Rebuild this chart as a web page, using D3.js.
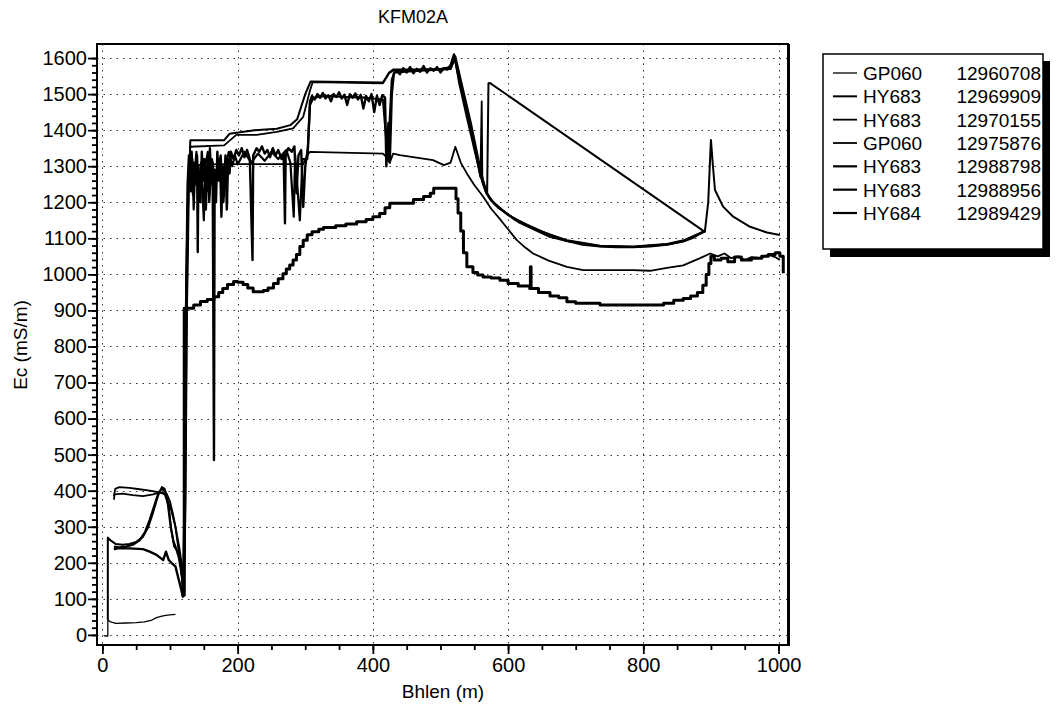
<!DOCTYPE html>
<html>
  <head>
    <meta charset="utf-8">
    <title>KFM02A</title>
    <script src="https://d3js.org/d3.v7.min.js"></script>
    <style>
    html, body {margin: 0; padding: 0; background: #fff;}
    svg {display: block;}
    text {font-family: "Liberation Sans", Arial, sans-serif; fill: #000;}
    .grid line {stroke: #333; stroke-width: 1; stroke-dasharray: 1.5,5;}
    .series {fill: none; stroke: #000; stroke-linejoin: round;}
    </style>
  </head>
  <body>
    <script>

    // series: [borehole length (m), Ec (mS/m)]
    var gp060_12960708 = [[3,-3],[8,-3],[8,42],[12,36],[20,32],[35,33],[50,34],[62,36],[72,40],[80,48],[88,52],[96,55],[108,57]];

    var hy683_12969909 = [[8,42],[8,270],[12,262],[20,252],[30,250],[40,252],[50,258],[60,272],[68,300],[75,340],[82,385],[88,410],[92,405],[96,375],[102,345],[108,300],[114,220],[118,160],[121,120],[123,400],[125,900],[128,1250],[130,1372],[180,1372],[188,1390],[225,1400],[258,1404],[278,1414],[288,1430],[300,1500],[308,1535],[415,1532],[424,1560],[430,1568],[460,1568],[500,1570],[515,1575],[522,1605],[530,1540],[545,1420],[556,1320],[563,1262],[569,1225],[571,1530],[573,1531],[891,1118],[896,1200],[900,1373],[903,1300],[906,1234],[918,1188],[933,1160],[958,1132],[983,1116],[1002,1109]];

    var hy683_12970155 = [[17,385],[19,405],[25,410],[40,408],[55,404],[70,400],[85,395],[95,392],[100,370],[105,330],[110,280],[114,240],[117,200],[120,150],[122,400],[124,900],[127,1250],[130,1354],[180,1358],[198,1387],[228,1387],[258,1395],[282,1405],[297,1437],[307,1510],[311,1533],[415,1530],[424,1558],[430,1565],[515,1570],[521,1598],[530,1530],[545,1400],[556,1300],[559,1270],[561,1480],[562,1255],[565,1240],[572,1212],[585,1185],[598,1169],[615,1145],[637,1125],[660,1105],[687,1092],[710,1082],[736,1077],[760,1075],[785,1075],[810,1077],[835,1082],[859,1091],[875,1102],[889,1118]];

    var gp060_12975876 = [[17,375],[18,390],[30,392],[45,388],[60,385],[75,390],[85,395],[92,390],[98,360],[102,290],[106,245],[110,235],[114,220],[118,150],[120,120],[122,500],[124,1000],[127,1280],[130,1300],[150,1305],[193,1306],[297,1306],[303,1330],[307,1340],[415,1335],[420,1325],[425,1310],[430,1335],[440,1331],[489,1317],[505,1303],[515,1310],[522,1354],[530,1310],[539,1280],[550,1248],[563,1216],[575,1182],[589,1151],[600,1125],[613,1095],[625,1075],[637,1058],[660,1038],[687,1021],[711,1012],[736,1012],[785,1012],[810,1010],[835,1018],[859,1025],[884,1045],[899,1058],[910,1050],[920,1058],[930,1045],[940,1050],[950,1040],[960,1048],[975,1045],[985,1055],[995,1048],[1002,1040]];

    var hy683_12988798 = [[17,237],[22,240],[40,240],[60,238],[70,231],[80,222],[90,208],[94,231],[98,208],[102,200],[108,190],[112,160],[116,130],[119,106],[121,300],[123,800],[125,1100],[126,1250],[128,1330],[130,1280],[132,1340],[134,1220],[136,1310],[138,1250],[140,1330],[141,1062],[142,1300],[145,1200],[147,1340],[149,1260],[151,1320],[153,1180],[155,1300],[157,1230],[159,1350],[161,1250],[163,1310],[165,485],[166,1290],[168,1200],[170,1340],[172,1260],[174,1320],[176,1160],[178,1300],[180,1240],[182,1330],[184,1180],[186,1320],[188,1280],[190,1340],[194,1320],[198,1345],[202,1330],[206,1350],[210,1325],[214,1345],[218,1320],[222,1040],[223,1330],[228,1350],[232,1340],[236,1355],[240,1335],[244,1345],[248,1325],[252,1350],[256,1330],[260,1345],[265,1320],[268,1335],[270,1142],[271,1330],[275,1350],[280,1340],[284,1355],[287,1225],[290,1330],[294,1345],[297,1187],[300,1300],[304,1350],[307,1480],[310,1495],[314,1485],[318,1500],[322,1490],[326,1503],[330,1488],[334,1497],[338,1480],[342,1500],[346,1492],[350,1505],[354,1488],[358,1498],[362,1470],[366,1500],[370,1490],[374,1502],[378,1485],[382,1498],[386,1460],[390,1495],[394,1480],[398,1500],[402,1450],[406,1495],[410,1470],[414,1497],[418,1490],[420,1300],[423,1420],[425,1310],[428,1500],[431,1557],[435,1565],[440,1555],[445,1572],[450,1560],[455,1575],[460,1558],[465,1570],[470,1562],[475,1578],[480,1560],[485,1572],[490,1565],[495,1575],[500,1560],[505,1572],[510,1568],[515,1580],[520,1610],[523,1585],[528,1530],[540,1430],[550,1350],[560,1270],[567,1230],[575,1205],[590,1180],[610,1152],[637,1130],[660,1110],[687,1094],[736,1079],[785,1077],[835,1084],[860,1094],[889,1118]];

    var hy683_12988956 = [[17,245],[25,243],[35,245],[45,250],[55,262],[63,285],[70,320],[77,360],[83,395],[88,405],[93,398],[97,360],[101,300],[105,260],[109,240],[113,215],[117,170],[120,130],[122,300],[124,800],[126,1150],[128,1300],[131,1230],[133,1320],[135,1180],[137,1290],[139,1340],[143,1240],[146,1310],[150,1150],[152,1300],[156,1340],[158,1200],[162,1320],[167,1250],[171,1300],[175,1330],[179,1200],[183,1310],[187,1340],[192,1300],[196,1330],[200,1305],[210,1340],[220,1310],[230,1335],[240,1315],[250,1340],[260,1320],[272,1345],[278,1310],[283,1160],[285,1330],[292,1150],[296,1320],[303,1320],[307,1470],[312,1490],[330,1495],[360,1492],[390,1490],[415,1485],[422,1320],[428,1540],[432,1560],[470,1565],[515,1570],[521,1600],[530,1520],[545,1400],[558,1290],[568,1225],[580,1195],[600,1165],[637,1128],[687,1093],[736,1078],[785,1076],[835,1083],[860,1093],[889,1118]];

    // stepped record
    var hy684_12989429 = [[117,150],[119,110],[121,906],[135,915],[145,925],[155,930],[165,938],[172,950],[178,961],[185,972],[194,980],[200,978],[208,972],[215,962],[223,952],[238,955],[245,962],[253,975],[260,988],[267,1002],[272,1015],[277,1026],[282,1040],[287,1055],[292,1077],[297,1095],[303,1110],[310,1118],[320,1125],[327,1130],[345,1135],[360,1140],[376,1146],[390,1152],[400,1160],[410,1169],[418,1185],[425,1197],[440,1197],[460,1208],[475,1216],[485,1225],[490,1239],[521,1239],[523,1210],[526,1170],[530,1120],[534,1060],[539,1021],[548,1005],[555,998],[563,993],[575,990],[588,984],[600,975],[615,968],[632,961],[633,1021],[634,961],[645,950],[662,940],[675,935],[687,924],[700,920],[736,915],[760,915],[810,915],[830,920],[845,928],[859,933],[870,940],[880,950],[888,970],[893,1000],[897,1030],[900,1050],[905,1040],[915,1045],[925,1035],[935,1048],[945,1040],[960,1045],[975,1050],[985,1055],[995,1060],[1002,1050],[1007,1050],[1007,1003]];

    var legendNames = ["GP060", "HY683", "HY683", "GP060", "HY683", "HY683", "HY684"];
    var legendIds = ["12960708", "12969909", "12970155", "12975876", "12988798", "12988956", "12989429"];
    var seriesData = [gp060_12960708, hy683_12969909, hy683_12970155, gp060_12975876, hy683_12988798, hy683_12988956, hy684_12989429];
    var seriesWidth = [1.3, 2, 1.8, 1.8, 2.4, 2.2, 3];

    var xTicks = [0, 200, 400, 600, 800, 1000];
    var yTicks = d3.range(0, 1601, 100);

    var width = 1057,
        height = 713;

    var svg = d3.select("body").append("svg")
        .attr("width", width)
        .attr("height", height);

    var x = d3.scaleLinear().domain([-8, 1014]).range([97, 788]);
    var y = d3.scaleLinear().domain([-28, 1639]).range([645, 44]);

    svg.append("defs").append("clipPath")
        .attr("id", "plotclip")
      .append("rect")
        .attr("x", 97).attr("y", 44)
        .attr("width", 691).attr("height", 601);

    // grid
    var grid = svg.append("g").attr("class", "grid");
    grid.selectAll(".gx").data(xTicks).enter().append("line")
        .attr("x1", function(d){ return Math.round(x(d)) + 0.5; })
        .attr("x2", function(d){ return Math.round(x(d)) + 0.5; })
        .attr("y1", 44).attr("y2", 645);
    grid.selectAll(".gy").data(yTicks).enter().append("line")
        .attr("y1", function(d){ return Math.round(y(d)) + 0.5; })
        .attr("y2", function(d){ return Math.round(y(d)) + 0.5; })
        .attr("x1", 97).attr("x2", 788);

    // lines
    var line = d3.line()
        .x(function(d){ return x(d[0]); })
        .y(function(d){ return y(d[1]); });

    var lines = svg.append("g").attr("clip-path", "url(#plotclip)");
    seriesData.forEach(function(s, i){
        lines.append("path")
            .datum(s)
            .attr("class", "series")
            .attr("stroke-width", seriesWidth[i])
            .attr("d", i === 6 ? line.curve(d3.curveStepAfter)(s) : line.curve(d3.curveLinear)(s));
    });

    // frame
    svg.append("rect")
        .attr("x", 97).attr("y", 44)
        .attr("width", 691).attr("height", 601)
        .attr("fill", "none")
        .attr("stroke", "#000")
        .attr("stroke-width", 2);
    svg.append("line")
        .attr("x1", 789).attr("x2", 789).attr("y1", 44).attr("y2", 646)
        .attr("stroke", "#000").attr("stroke-width", 2);

    // axes
    var noLabel = function(){ return ""; };
    var yAxis = d3.axisLeft(y).tickValues(yTicks).tickSize(9).tickPadding(1).tickFormat(d3.format("d"));
    var yMinor = d3.axisLeft(y).tickValues(d3.range(0, 1601, 20)).tickSize(5).tickFormat(noLabel);
    var xAxis = d3.axisBottom(x).tickValues(xTicks).tickSize(9).tickPadding(4).tickFormat(d3.format("d"));
    var xMinor = d3.axisBottom(x).tickValues(d3.range(0, 1001, 50)).tickSize(5).tickFormat(noLabel);

    function styleAxis(g) {
        g.select(".domain").remove();
        g.selectAll("line").attr("stroke", "#000").attr("stroke-width", 1.8);
        g.selectAll("text").style("font-size", "20px").attr("fill", "#000");
    }

    svg.append("g").attr("transform", "translate(97,0)").call(yMinor).call(styleAxis);
    svg.append("g").attr("transform", "translate(97,0)").call(yAxis).call(styleAxis);
    svg.append("g").attr("transform", "translate(0,645)").call(xMinor).call(styleAxis);
    svg.append("g").attr("transform", "translate(0,645)").call(xAxis).call(styleAxis);

    // titles
    svg.append("text")
        .attr("x", 413).attr("y", 23)
        .attr("text-anchor", "middle")
        .style("font-size", "18px")
        .text("KFM02A");

    svg.append("text")
        .attr("x", 443).attr("y", 698)
        .attr("text-anchor", "middle")
        .style("font-size", "19px")
        .text("Bhlen (m)");

    svg.append("text")
        .attr("transform", "translate(27,345) rotate(-90)")
        .attr("text-anchor", "middle")
        .style("font-size", "19px")
        .text("Ec (mS/m)");

    // legend
    var legend = svg.append("g");
    legend.append("rect")
        .attr("x", 830).attr("y", 61)
        .attr("width", 220).attr("height", 196)
        .attr("fill", "#000");
    legend.append("rect")
        .attr("x", 823).attr("y", 54)
        .attr("width", 220).attr("height", 195)
        .attr("fill", "#fff")
        .attr("stroke", "#000")
        .attr("stroke-width", 1.5);

    var rowY = d3.scaleLinear().domain([0, 6]).range([73, 213]);
    legendIds.forEach(function(id, i){
        legend.append("line")
            .attr("x1", 833).attr("x2", 857)
            .attr("y1", rowY(i)).attr("y2", rowY(i))
            .attr("stroke", "#000")
            .attr("stroke-width", Math.min(seriesWidth[i], 2.2));
        legend.append("text")
            .attr("x", 863).attr("y", rowY(i) + 7)
            .style("font-size", "19px")
            .text(legendNames[i]);
        legend.append("text")
            .attr("x", 1041).attr("y", rowY(i) + 7)
            .attr("text-anchor", "end")
            .style("font-size", "19px")
            .text(id);
    });

    </script>
  </body>
</html>
